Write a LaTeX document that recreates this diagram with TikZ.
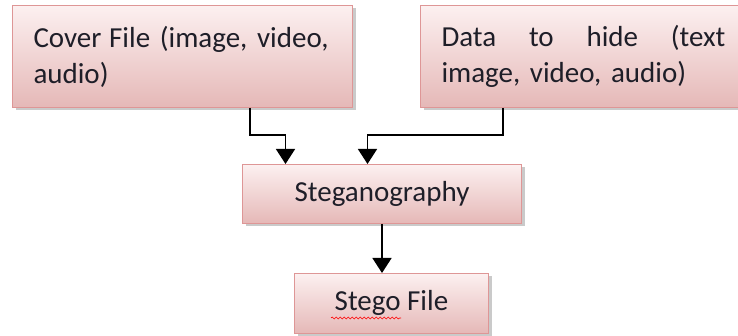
\documentclass[tikz,border=0pt]{standalone}
\usepackage{fontspec}
\setmainfont{Carlito}
\usetikzlibrary{arrows.meta,shadows,decorations.pathmorphing}
\definecolor{boxtop}{RGB}{252,240,240}
\definecolor{boxbot}{RGB}{229,184,183}
\definecolor{boxline}{RGB}{222,150,150}
\definecolor{txt}{RGB}{30,30,40}
\begin{document}
\begin{tikzpicture}[x=1pt,y=-1pt,
  pbox/.style={draw=boxline, line width=1pt, top color=boxtop, bottom color=boxbot,
    drop shadow={shadow xshift=3pt, shadow yshift=-3pt, fill=black!35, opacity=0.6},
    font=\fontsize{29}{36}\selectfont, text=txt, inner sep=0pt},
  conn/.style={black, line width=1.5pt, -{Triangle[width=19pt,length=15pt]}}]
\useasboundingbox (0,0) rectangle (738,336);
\node[pbox, minimum width=340pt, minimum height=102pt, anchor=north west,
  text width=298pt, align=left] (cover) at (12,5) {Cover\hspace{-2pt} File (image, video,\\audio)};
\node[pbox, minimum width=326pt, minimum height=102pt, anchor=north west,
  text width=284pt, align=left] (data) at (420,5) {Data\hfill to\hfill hide\hfill (text\\image, video, audio)};
\node[pbox, minimum width=279pt, minimum height=59pt, anchor=north west] (steg) at (242,164) {Steganography};
\node[pbox, minimum width=194pt, minimum height=60pt, anchor=north west] (stego) at (294,273) {\strut Stego File};
\coordinate (c1) at (250,135);
\coordinate (c2) at (503,135);
\draw[conn] (cover.south -| c1) -- (c1) -| ([xshift=-96.5pt]steg.north);
\draw[conn] (data.south -| c2) -- (c2) -| ([xshift=-14.5pt]steg.north);
\draw[conn] (steg.south) -- (steg.south |- stego.north);
\coordinate (w1) at (331,318);
\coordinate (w2) at (401,318);
\draw[red, line width=0.6pt, decorate, decoration={snake, amplitude=1pt, segment length=4pt}] (w1) -- (w2);
\end{tikzpicture}
\end{document}
